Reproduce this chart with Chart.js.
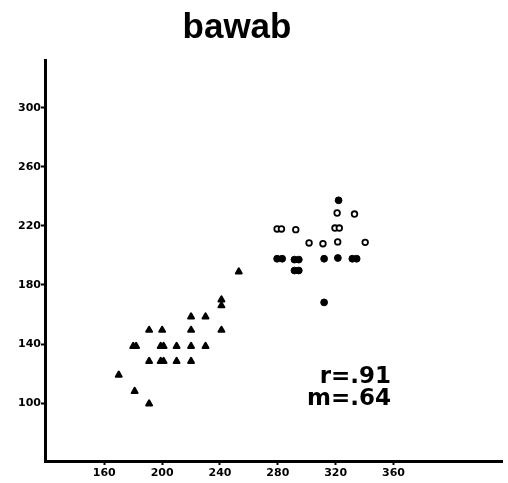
<!DOCTYPE html>
<html>
<head>
<meta charset="utf-8">
<script src="https://cdn.jsdelivr.net/npm/chart.js@4.4.0/dist/chart.umd.min.js"></script>
<style>
  html, body { margin: 0; padding: 0; background: #fff; }
  #wrap { width: 508px; height: 483px; }
</style>
</head>
<body>
<div id="wrap"><canvas id="scatter" width="508" height="483"></canvas></div>
<script>
const chartTitle = 'bawab';
const statLines = ['r=.91', 'm=.64'];
const xTicks = [160, 200, 240, 280, 320, 360];
const yTicks = [100, 140, 180, 220, 260, 300];

// lower group, drawn as triangles
const triX = [170, 181, 180, 182, 191, 191, 191, 199, 201, 200, 199, 201, 210, 210, 220, 220, 220, 220, 230, 230, 241, 241, 241, 253];
const triY = [119, 108, 138.5, 138.5, 99.5, 128.3, 149.4, 138.5, 138.5, 149.4, 128.3, 128.3, 138.5, 128.3, 158.5, 149.4, 138.5, 128.3, 158.5, 138.5, 166, 170, 149.4, 189];

// upper group, filled circles
const dotX = [322, 279.5, 283, 291.5, 294.5, 312, 321.5, 331.5, 334.5, 291.5, 294.5, 312];
const dotY = [237.4, 197.8, 197.8, 197.2, 197.2, 197.8, 198.3, 197.8, 197.8, 189.8, 189.8, 168.2];

// upper group, open circles
const ringX = [321, 333, 279.5, 282.5, 292.4, 319.5, 322.5, 301.6, 311.2, 321.4, 340.4];
const ringY = [228.8, 228.1, 218, 218, 217.5, 218.6, 218.6, 208.5, 208, 209.2, 208.9];

function toPoints(xs, ys) {
    return xs.map((x, i) => ({ x: x, y: ys[i] }));
}

// round joins so the triangles come out as soft blobs
const roundJoin = {
    id: 'roundJoin',
    beforeDatasetsDraw(chart) {
        chart.ctx.lineJoin = 'round';
    }
};

// title and the r / m summary are plain canvas text on top of the plot
const textPlugin = {
    id: 'plotText',
    afterDraw(chart) {
        const ctx = chart.ctx;
        ctx.save();
        ctx.fillStyle = '#000';
        ctx.textAlign = 'center';
        ctx.textBaseline = 'alphabetic';
        ctx.font = 'bold 35px "Liberation Sans", Arial, sans-serif';
        ctx.fillText(chartTitle, 237, 38);
        ctx.textAlign = 'right';
        ctx.font = 'bold 23px "DejaVu Sans", sans-serif';
        ctx.fillText(statLines[0], 391, 383);
        ctx.fillText(statLines[1], 391, 405);
        ctx.restore();
    }
};

const tickFont = { family: '"DejaVu Sans", sans-serif', weight: 'bold', size: 11 };

new Chart(document.getElementById('scatter').getContext('2d'), {
    type: 'scatter',
    data: {
        datasets: [{
            data: toPoints(triX, triY),
            pointStyle: 'triangle',
            pointRadius: 3.4,
            backgroundColor: '#000',
            borderColor: '#000',
            borderWidth: 2
        }, {
            data: toPoints(dotX, dotY),
            pointStyle: 'circle',
            pointRadius: 3.4,
            backgroundColor: '#000',
            borderColor: '#000',
            borderWidth: 1
        }, {
            data: toPoints(ringX, ringY),
            pointStyle: 'circle',
            pointRadius: 2.8,
            backgroundColor: '#fff',
            borderColor: '#000',
            borderWidth: 1.8
        }]
    },
    options: {
        responsive: false,
        animation: false,
        layout: {
            padding: { top: 60, right: 3, left: 0, bottom: 0 }
        },
        plugins: {
            legend: { display: false },
            tooltip: { enabled: false },
            title: { display: false }
        },
        scales: {
            x: {
                type: 'linear',
                min: 119,
                max: 435,
                afterBuildTicks: scale => { scale.ticks = xTicks.map(v => ({ value: v })); },
                afterFit: scale => { scale.height = 22; },
                grid: { drawOnChartArea: false, tickLength: 4, tickWidth: 2, tickColor: '#000' },
                border: { color: '#000', width: 3 },
                ticks: { color: '#000', font: tickFont, padding: 2, maxRotation: 0, autoSkip: false }
            },
            y: {
                type: 'linear',
                min: 60.7,
                max: 332.5,
                afterBuildTicks: scale => { scale.ticks = yTicks.map(v => ({ value: v })); },
                afterFit: scale => { scale.width = 45; },
                grid: { drawOnChartArea: false, tickLength: 4, tickWidth: 2, tickColor: '#000' },
                border: { color: '#000', width: 3 },
                ticks: { color: '#000', font: tickFont, padding: 0, autoSkip: false }
            }
        }
    },
    plugins: [roundJoin, textPlugin]
});
</script>
</body>
</html>
